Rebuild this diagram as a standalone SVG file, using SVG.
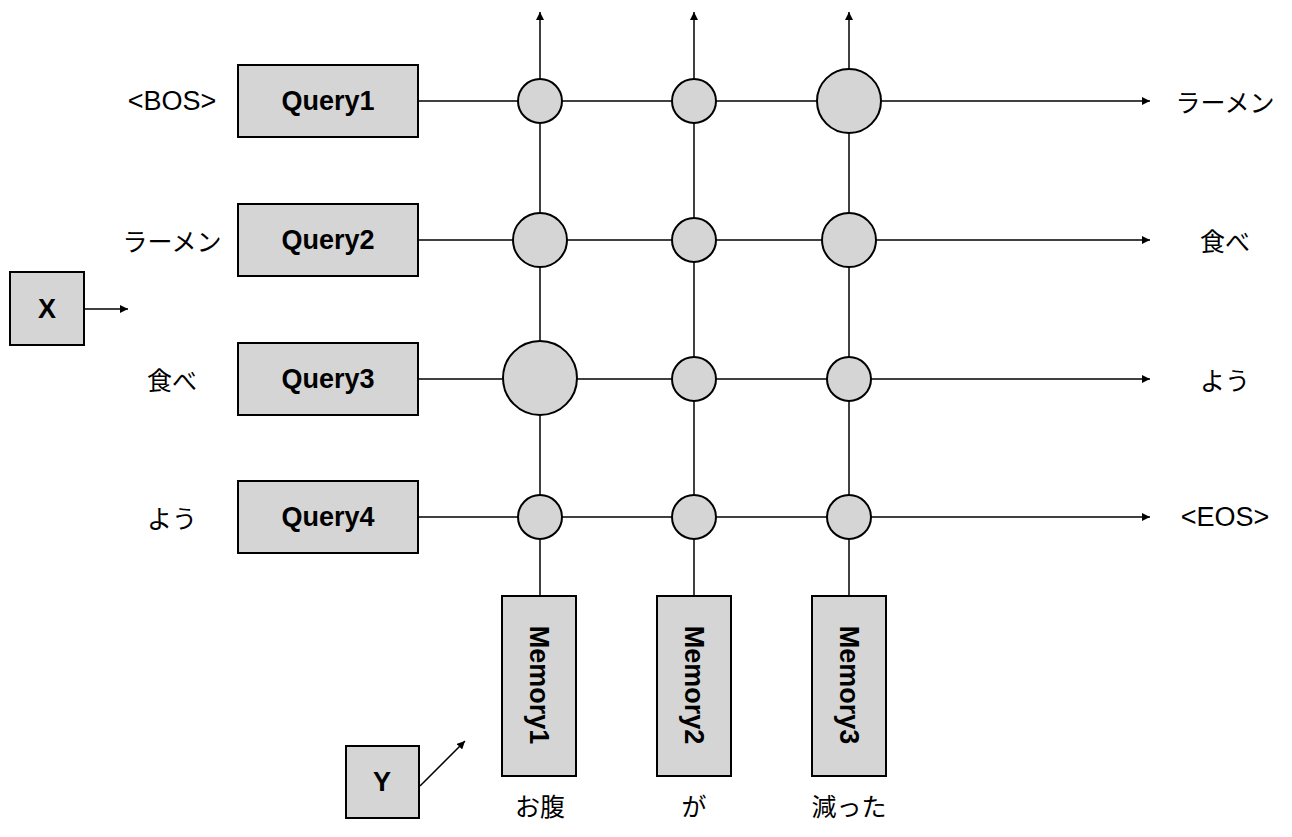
<svg xmlns="http://www.w3.org/2000/svg" width="1292" height="837" viewBox="0 0 1292 837">
<style>
.box{fill:#d5d5d5;stroke:#000;stroke-width:2}
.node{fill:#d5d5d5;stroke:#000;stroke-width:2}
.ln{stroke:#000;stroke-width:1.5;fill:none}
.bt{font-family:"Liberation Sans","Noto Sans CJK JP",sans-serif;font-size:27px;font-weight:bold;text-anchor:middle;dominant-baseline:central}
.lb{font-family:"Liberation Sans","Noto Sans CJK JP",sans-serif;font-size:27px;text-anchor:middle;dominant-baseline:central}
.jp{font-family:"Noto Sans CJK JP",sans-serif;font-size:25px;text-anchor:middle;dominant-baseline:central}
</style>
<defs>
<marker id="ah" viewBox="0 0 10 10" refX="10" refY="5" markerWidth="8" markerHeight="8" markerUnits="userSpaceOnUse" orient="auto">
<path d="M0,0L10,5L0,10z" fill="#000"/>
</marker>
</defs>
<g id="connectors">
<line class="ln" x1="418" y1="101" x2="1150" y2="101" marker-end="url(#ah)"/>
<line class="ln" x1="418" y1="240" x2="1150" y2="240" marker-end="url(#ah)"/>
<line class="ln" x1="418" y1="379" x2="1150" y2="379" marker-end="url(#ah)"/>
<line class="ln" x1="418" y1="517" x2="1150" y2="517" marker-end="url(#ah)"/>
<line class="ln" x1="540" y1="596" x2="540" y2="12" marker-end="url(#ah)"/>
<line class="ln" x1="694" y1="596" x2="694" y2="12" marker-end="url(#ah)"/>
<line class="ln" x1="849" y1="596" x2="849" y2="12" marker-end="url(#ah)"/>
<line class="ln" x1="84" y1="309" x2="128" y2="309" marker-end="url(#ah)"/>
<line class="ln" x1="420" y1="786" x2="465" y2="741" marker-end="url(#ah)"/>
</g>
<g id="q1"><rect class="box" x="238" y="65" width="180" height="72"/><text class="bt" x="328" y="101">Query1</text></g>
<g id="q2"><rect class="box" x="238" y="204" width="180" height="72"/><text class="bt" x="328" y="240">Query2</text></g>
<g id="q3"><rect class="box" x="238" y="343" width="180" height="72"/><text class="bt" x="328" y="379">Query3</text></g>
<g id="q4"><rect class="box" x="238" y="481" width="180" height="72"/><text class="bt" x="328" y="517">Query4</text></g>
<g id="m1"><rect class="box" x="502" y="596" width="74" height="180"/><text class="bt" transform="translate(539,685) rotate(90)">Memory1</text></g>
<g id="m2"><rect class="box" x="657" y="596" width="74" height="180"/><text class="bt" transform="translate(694,685) rotate(90)">Memory2</text></g>
<g id="m3"><rect class="box" x="812" y="596" width="74" height="180"/><text class="bt" transform="translate(849,685) rotate(90)">Memory3</text></g>
<g id="x"><rect class="box" x="10" y="272" width="74" height="73"/><text class="bt" x="47" y="309">X</text></g>
<g id="y"><rect class="box" x="346" y="746" width="73" height="72"/><text class="bt" x="382" y="782">Y</text></g>
<g id="circles">
<circle class="node" cx="540" cy="101" r="22"/>
<circle class="node" cx="694" cy="101" r="22"/>
<circle class="node" cx="849" cy="101" r="32"/>
<circle class="node" cx="540" cy="240" r="27"/>
<circle class="node" cx="694" cy="240" r="22"/>
<circle class="node" cx="849" cy="240" r="27"/>
<circle class="node" cx="540" cy="378" r="37"/>
<circle class="node" cx="694" cy="379" r="22"/>
<circle class="node" cx="849" cy="379" r="22"/>
<circle class="node" cx="540" cy="517" r="22"/>
<circle class="node" cx="694" cy="517" r="22"/>
<circle class="node" cx="849" cy="517" r="22"/>
</g>
<g id="labels">
<text class="lb" x="172" y="101">&lt;BOS&gt;</text>
<text class="jp" x="172" y="240">ラーメン</text>
<text class="jp" x="172" y="379">食べ</text>
<text class="jp" x="172" y="517">よう</text>
<text class="jp" x="1225" y="101">ラーメン</text>
<text class="jp" x="1225" y="240">食べ</text>
<text class="jp" x="1225" y="379">よう</text>
<text class="lb" x="1225" y="517">&lt;EOS&gt;</text>
<text class="jp" x="540" y="805">お腹</text>
<text class="jp" x="694" y="805">が</text>
<text class="jp" x="849" y="805">減った</text>
</g>
</svg>
